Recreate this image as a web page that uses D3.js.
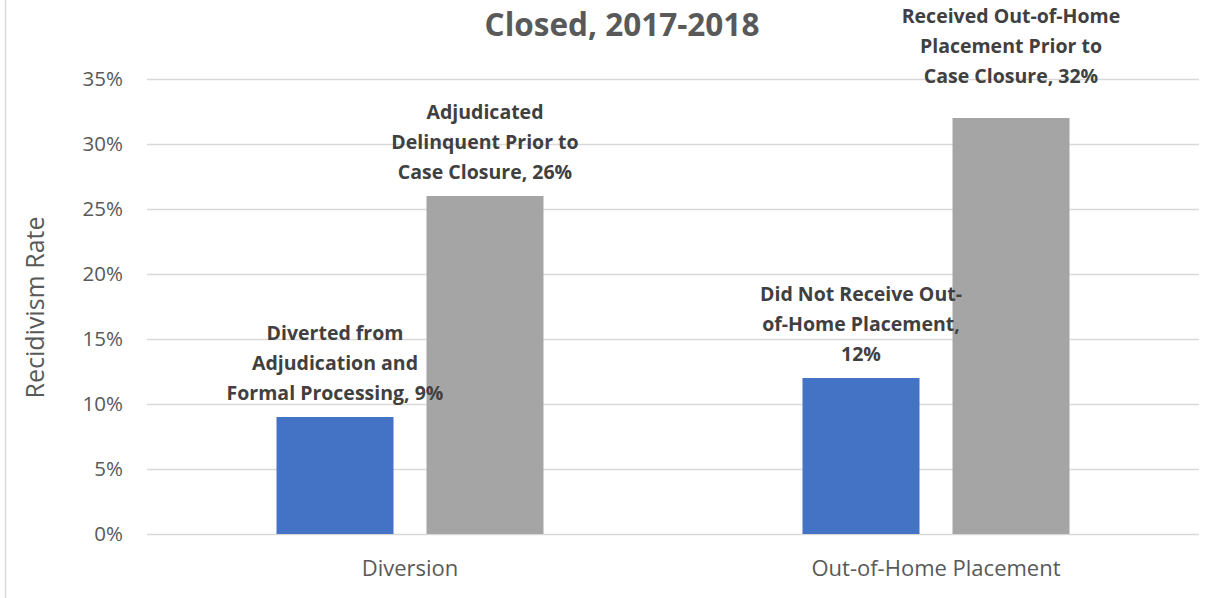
<!DOCTYPE html>
<html>
<head>
<meta charset="utf-8">
<script src="https://cdn.jsdelivr.net/npm/d3@7"></script>
<style>
  html, body { margin: 0; padding: 0; background: #ffffff; }
  svg { display: block; font-family: "Open Sans", Lato, sans-serif; }
</style>
</head>
<body>
<svg id="chart" width="1225" height="598"></svg>
<script>
// Recidivism rate by case handling, cases closed 2017-2018
const categories = ["Diversion", "Out-of-Home Placement"];
const seriesKeys = ["lower", "higher"];
const lowerValues = [0.09, 0.12];
const higherValues = [0.26, 0.32];
const lowerLabels = [
  ["Diverted from", "Adjudication and", "Formal Processing, 9%"],
  ["Did Not Receive Out-", "of-Home Placement,", "12%"]
];
const higherLabels = [
  ["Adjudicated", "Delinquent Prior to", "Case Closure, 26%"],
  ["Received Out-of-Home", "Placement Prior to", "Case Closure, 32%"]
];
const yTicks = [0, 0.05, 0.10, 0.15, 0.20, 0.25, 0.30, 0.35];
const titleText = "Closed, 2017-2018";
const yAxisTitle = "Recidivism Rate";

// layout
const W = 1225, H = 598;
const plot = { left: 147, right: 1199, top: 79, bottom: 534 };
const colors = { lower: "#4472C4", higher: "#A5A5A5" };
const font = "'Open Sans', Lato, sans-serif";
const labelGap = 24;     // space between a label's last line and its bar
const lineStep = 30;     // data-label line spacing
// extra upward shift for individual labels [series][category]
const labelLift = { lower: [0, 0], higher: [0, 18] };

const rows = categories.map((c, i) => ({
  category: c,
  lower: lowerValues[i],
  higher: higherValues[i],
  labels: { lower: lowerLabels[i], higher: higherLabels[i] }
}));

const svg = d3.select("#chart");

const x0 = d3.scaleBand().domain(categories).range([plot.left, plot.right]).padding(0);
const groupWidth = 267;
const x1 = d3.scaleBand().domain(seriesKeys).range([0, groupWidth]).paddingInner(0.22).paddingOuter(0);
const y = d3.scaleLinear().domain([0, 0.35]).range([plot.bottom, plot.top]);

// outer frame edge on the left
svg.append("line")
  .attr("x1", 5.5).attr("x2", 5.5).attr("y1", 0).attr("y2", H)
  .attr("stroke", "#D9D9D9").attr("stroke-width", 1.5);

// gridlines
svg.append("g")
  .selectAll("line")
  .data(yTicks)
  .join("line")
  .attr("x1", plot.left).attr("x2", plot.right)
  .attr("y1", d => Math.round(y(d)) + 0.5).attr("y2", d => Math.round(y(d)) + 0.5)
  .attr("stroke", "#D9D9D9").attr("stroke-width", 1.5);

// y axis tick labels
const yAxis = d3.axisLeft(y).tickValues(yTicks).tickFormat(d3.format(".0%")).tickSize(0).tickPadding(0);
const yAxisG = svg.append("g").attr("transform", `translate(123,0)`).call(yAxis);
yAxisG.select(".domain").remove();
yAxisG.selectAll("text")
  .attr("font-family", font)
  .attr("font-size", 20.5).attr("fill", "#595959");

// x axis category labels
const xAxis = d3.axisBottom(x0).tickSize(0).tickPadding(0);
const xAxisG = svg.append("g").attr("transform", `translate(0,${plot.bottom + 26})`).call(xAxis);
xAxisG.select(".domain").remove();
xAxisG.selectAll("text")
  .attr("font-family", font)
  .attr("font-size", 22).attr("fill", "#595959");

// y axis title
svg.append("text")
  .attr("transform", `translate(44,${(plot.top + plot.bottom) / 2 + 1}) rotate(-90)`)
  .attr("text-anchor", "middle")
  .attr("font-size", 25).attr("fill", "#595959")
  .text(yAxisTitle);

// chart title
svg.append("text")
  .attr("x", 622).attr("y", 36)
  .attr("text-anchor", "middle")
  .attr("font-size", 31.5).attr("font-weight", "bold").attr("fill", "#595959")
  .text(titleText);

// bars
const groups = svg.append("g")
  .selectAll("g")
  .data(rows)
  .join("g")
  .attr("transform", d => `translate(${x0(d.category) + (x0.bandwidth() - groupWidth) / 2},0)`);

groups.selectAll("rect")
  .data(d => seriesKeys.map(k => ({ key: k, value: d[k] })))
  .join("rect")
  .attr("x", d => x1(d.key))
  .attr("y", d => y(d.value))
  .attr("width", x1.bandwidth())
  .attr("height", d => y(0) - y(d.value))
  .attr("fill", d => colors[d.key]);

// data labels
groups.each(function (d, ci) {
  const g = d3.select(this);
  seriesKeys.forEach(k => {
    const lines = d.labels[k];
    const cx = x1(k) + x1.bandwidth() / 2;
    const lastBaseline = y(d[k]) - labelGap + 7 - labelLift[k][ci];
    const t = g.append("text")
      .attr("text-anchor", "middle")
      .attr("font-family", font)
      .attr("font-size", 19.5).attr("font-weight", "bold").attr("fill", "#404040");
    lines.forEach((ln, li) => {
      t.append("tspan")
        .attr("x", cx)
        .attr("y", lastBaseline - (lines.length - 1 - li) * lineStep)
        .text(ln);
    });
  });
});
</script>
</body>
</html>
